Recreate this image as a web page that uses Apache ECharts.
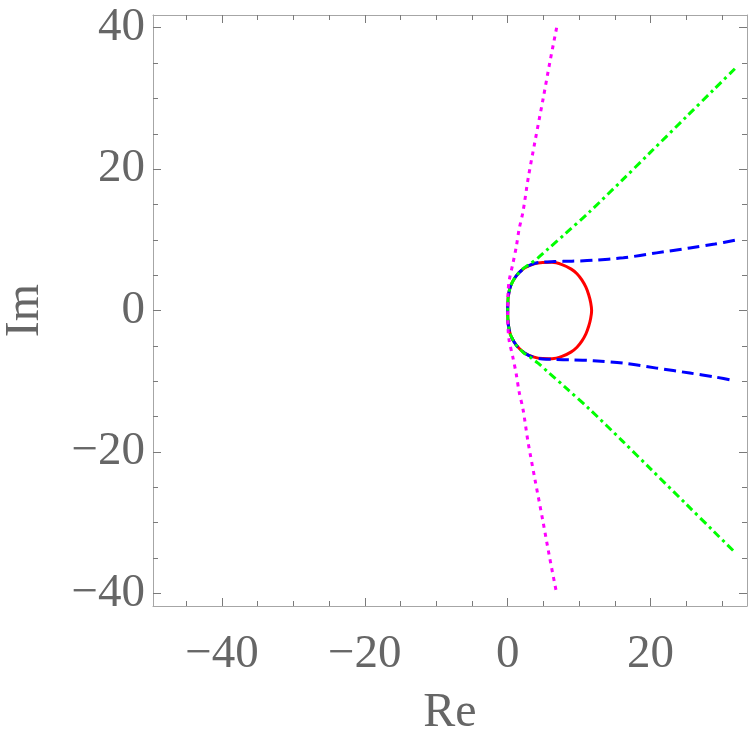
<!DOCTYPE html>
<html>
  <head>
    <meta charset="utf-8" />
    <title>Re / Im</title>
    <script src="https://cdn.jsdelivr.net/npm/echarts@6.0.0/dist/echarts.min.js"></script>
  </head>

  <body style="margin: 0">
    <div id="main" style="width: 750px; height: 738px"></div>

    <script>
      // tick positions
      var majorTicksX = [-40, -20, 0, 20];
      var minorTicksX = [-45, -35, -30, -25, -15, -10, -5, 5, 10, 15, 25, 30];
      var majorTicksY = [-40, -20, 0, 20, 40];
      var minorTicksY = [-35, -30, -25, -15, -10, -5, 5, 10, 15, 25, 30, 35];

      // red closed curve (solid)
      var redRe = [0, 0.02, 0.1, 0.42, 1.2, 2.35, 3.7, 4.9, 6.2, 7.6, 8.9, 9.7, 10.4, 10.95, 11.35, 11.62, 11.75,
                   11.62, 11.35, 10.95, 10.4, 9.7, 8.9, 7.6, 6.2, 4.9, 3.7, 2.35, 1.2, 0.42, 0.1, 0.02, 0];
      var redIm = [0, 1.0, 2.1, 3.5, 4.9, 6.0, 6.6, 6.8, 6.82, 6.5, 5.85, 5.2, 4.3, 3.3, 2.2, 1.1, 0,
                   -1.1, -2.2, -3.3, -4.3, -5.2, -5.85, -6.5, -6.82, -6.8, -6.6, -6.0, -4.9, -3.5, -2.1, -1.0, 0];

      // blue dashed curve
      var blueRe = [31.8, 29, 25.5, 20.85, 16.2, 12, 9, 6.5, 4.9, 3.7, 2.35, 1.2, 0.42, 0.1, 0.02, 0,
                    0.02, 0.1, 0.42, 1.2, 2.35, 3.7, 4.9, 6.5, 9, 12, 16.2, 20.85, 25.5, 29, 31.8];
      var blueIm = [9.95, 9.4, 8.85, 8.15, 7.45, 7.1, 6.98, 6.92, 6.85, 6.65, 6.0, 4.9, 3.5, 2.1, 1.0, 0,
                    -1.0, -2.1, -3.5, -4.9, -6.0, -6.65, -6.85, -6.92, -6.98, -7.1, -7.45, -8.15, -8.85, -9.4, -9.95];

      // green dash-dot curve
      var greenRe = [31.8, 29, 25, 20, 16, 11.5, 8, 5.7, 4.25, 3.2, 2.2, 1.2, 0.42, 0.1, 0.02, 0,
                     0.02, 0.1, 0.42, 1.2, 2.2, 3.2, 4.25, 5.7, 8, 11.5, 16, 20, 25, 29, 31.8];
      var greenIm = [34.2, 31.4, 27.4, 22.4, 18.4, 14.0, 10.8, 8.75, 7.45, 6.65, 5.95, 4.9, 3.5, 2.1, 1.0, 0,
                     -1.0, -2.1, -3.5, -4.9, -5.95, -6.65, -7.45, -8.75, -10.8, -14.0, -18.4, -22.4, -27.4, -31.4, -34.2];

      // magenta dotted curve
      var magentaRe = [6.85, 5.9, 4.95, 3.8, 2.85, 2.15, 1.6, 1.2, 0.7, 0.2, 0.05, 0,
                       0.05, 0.2, 0.7, 1.2, 1.6, 2.15, 2.85, 3.8, 4.95, 5.9, 6.85];
      var magentaIm = [40, 35.1, 29.9, 23.8, 18.6, 14.0, 11.5, 9.0, 6.5, 4.2, 2.5, 0,
                       -2.5, -4.2, -6.5, -9.0, -11.5, -14.0, -18.6, -23.8, -29.9, -35.1, -40];

      function pairs(re, im) {
        return re.map(function (v, i) {
          return [v, im[i]];
        });
      }

      var frameColor = "#a6a6a6";
      var tickColor = "#7a7a7a";
      var textColor = "#666666";
      var font = "Liberation Serif";
      var xMin = -49.65, xMax = 33.5, yMin = -41.8, yMax = 41.8;

      function minus(v) {
        return String(v).replace("-", "\u2212");
      }

      function makeAxis(pos, ticks, len, main, isX) {
        var ax = {
          type: "value",
          position: pos,
          min: isX ? xMin : yMin,
          max: isX ? xMax : yMax,
          splitLine: { show: false },
          axisLine: { show: main, onZero: false, lineStyle: { color: frameColor, width: 1 } },
          axisTick: {
            show: true,
            inside: true,
            length: len,
            customValues: ticks,
            lineStyle: { color: tickColor, width: 1 },
          },
          axisLabel: { show: false },
        };
        return ax;
      }

      var xAxes = [
        makeAxis("bottom", majorTicksX, 8, true, true),
        makeAxis("bottom", minorTicksX, 5, false, true),
        makeAxis("top", majorTicksX, 8, true, true),
        makeAxis("top", minorTicksX, 5, false, true),
      ];
      xAxes[0].axisLabel = {
        show: true,
        customValues: majorTicksX,
        formatter: minus,
        color: textColor,
        fontFamily: font,
        fontSize: 47,
        margin: 25,
      };
      xAxes[0].name = "Re";
      xAxes[0].nameLocation = "middle";
      xAxes[0].nameGap = 83;
      xAxes[0].nameTextStyle = { color: textColor, fontFamily: font, fontSize: 48 };

      var yAxes = [
        makeAxis("left", majorTicksY, 8, true, false),
        makeAxis("left", minorTicksY, 5, false, false),
        makeAxis("right", majorTicksY, 8, true, false),
        makeAxis("right", minorTicksY, 5, false, false),
      ];
      yAxes[0].axisLabel = {
        show: true,
        customValues: majorTicksY,
        formatter: minus,
        color: textColor,
        fontFamily: font,
        fontSize: 47,
        margin: 8,
      };
      yAxes[0].name = "Im";
      yAxes[0].nameLocation = "middle";
      yAxes[0].nameGap = 104;
      yAxes[0].nameRotate = 90;
      yAxes[0].nameTextStyle = { color: textColor, fontFamily: font, fontSize: 48 };

      function curve(re, im, color, type) {
        return {
          type: "line",
          xAxisIndex: 0,
          yAxisIndex: 0,
          data: pairs(re, im),
          showSymbol: false,
          smooth: 0.3,
          animation: false,
          lineStyle: { color: color, width: 3, type: type, cap: "butt" },
        };
      }

      var option = {
        animation: false,
        grid: { left: 153, right: 3, top: 15, bottom: 132, outerBoundsMode: "none" },
        xAxis: xAxes,
        yAxis: yAxes,
        series: [
          curve(redRe, redIm, "#ff0000", "solid"),
          curve(blueRe, blueIm, "#0000ff", [12, 6]),
          curve(greenRe, greenIm, "#00ff00", [8, 4, 3, 4]),
          curve(magentaRe, magentaIm, "#ff00ff", [4, 5]),
        ],
      };

      var myChart = echarts.init(document.getElementById("main"));
      myChart.setOption(option);
    </script>
  </body>
</html>
